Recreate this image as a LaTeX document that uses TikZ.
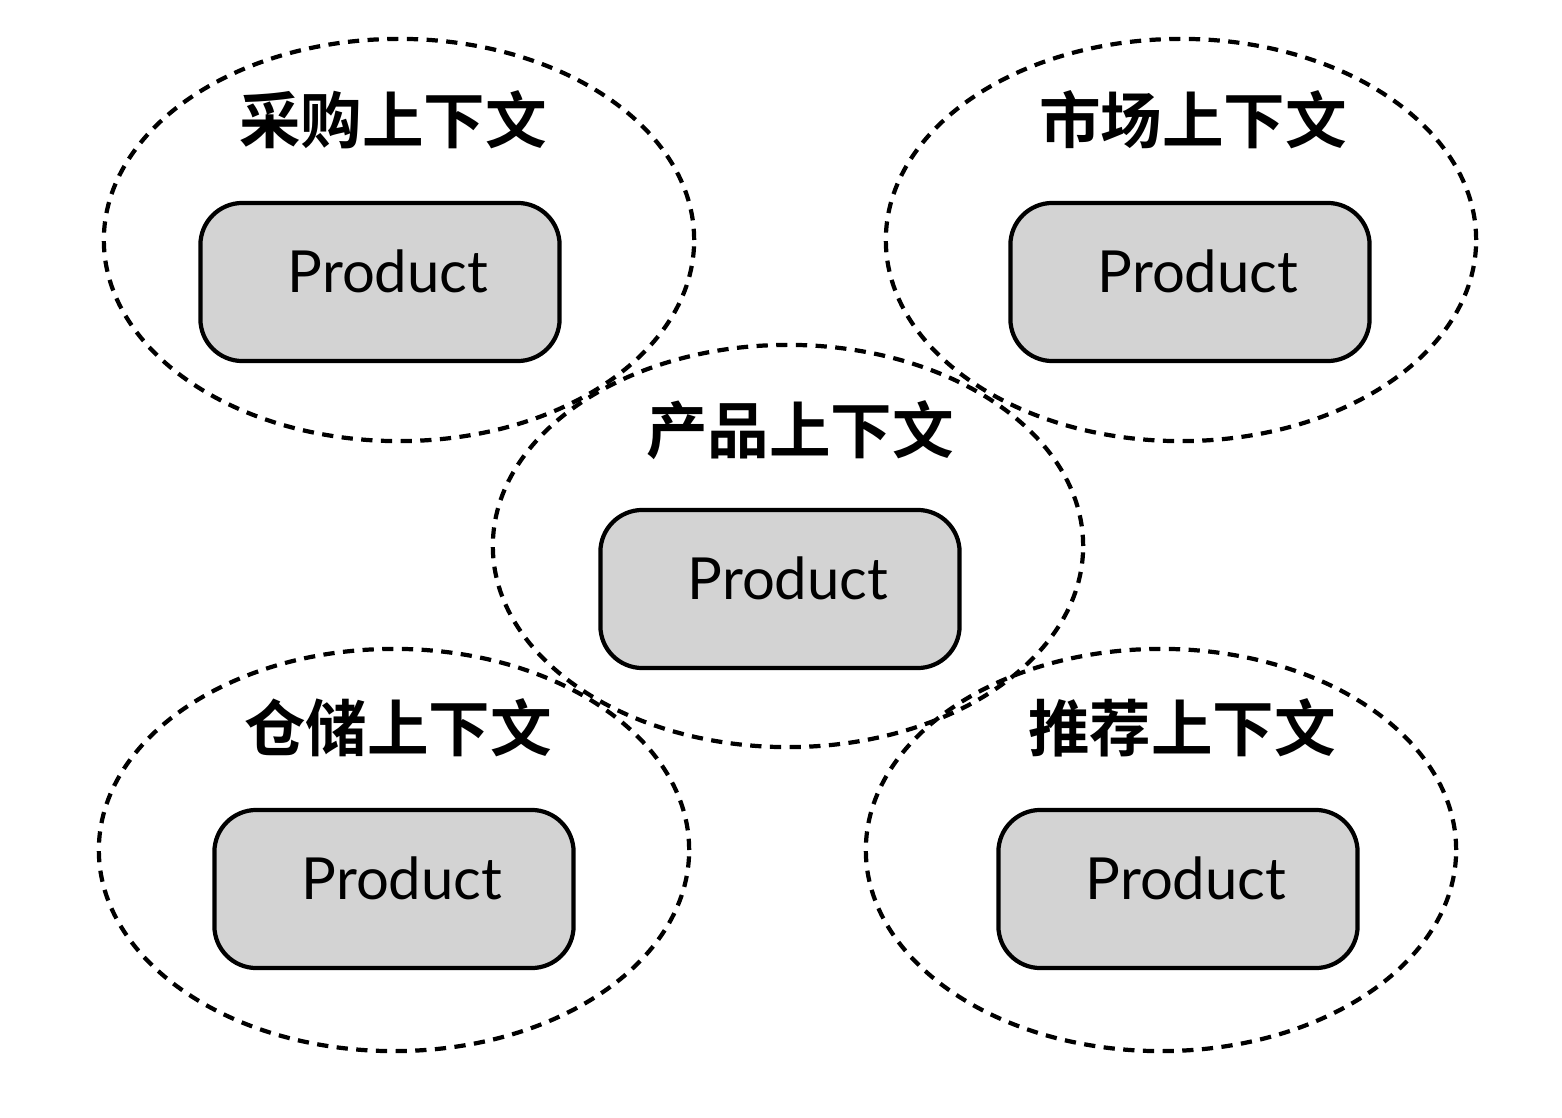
\documentclass[tikz,border=0pt]{standalone}
\usepackage{fontspec}
\setmainfont{Lato}
\newfontfamily\cjk{Noto Sans CJK SC Bold}
\usetikzlibrary{shapes.geometric,positioning}

\begin{document}
\begin{tikzpicture}[x=0.01cm,y=-0.01cm,line width=1.2pt,
    ctx/.style={draw,ellipse,dash pattern=on 3.2pt off 2.4pt,minimum width=5.9cm,minimum height=4.02cm,inner sep=0pt},
    entity/.style={draw,fill=boxgray,rounded corners=0.42cm,minimum width=3.59cm,minimum height=1.58cm,
        text height=0.45cm,text depth=0.25cm,font=\fontsize{16.5}{20}\selectfont},
    ctxname/.style={font=\cjk\fontsize{17.5}{20}\selectfont}]
    \definecolor{boxgray}{RGB}{211,211,211}
    \useasboundingbox (0,0) rectangle (1562,1118);

    \node[ctx]     (caigou)   at (399,240)  {};
    \node[ctx]     (shichang) at (1181,240) {};
    \node[ctx]     (chanpin)  at (788,546)  {};
    \node[ctx]     (cangchu)  at (394,850)  {};
    \node[ctx]     (tuijian)  at (1161,850) {};

    \node[entity]  (caigouP)   at (380,282)  {\hspace{0.16cm}Product};
    \node[entity]  (shichangP) at (1190,282) {\hspace{0.16cm}Product};
    \node[entity]  (chanpinP)  at (780,589)  {\hspace{0.16cm}Product};
    \node[entity]  (cangchuP)  at (394,889)  {\hspace{0.16cm}Product};
    \node[entity]  (tuijianP)  at (1178,889) {\hspace{0.16cm}Product};

    \node[ctxname] (caigouT)   at (393,120)  {采购上下文};
    \node[ctxname] (shichangT) at (1193,120) {市场上下文};
    \node[ctxname] (chanpinT)  at (800,430)  {产品上下文};
    \node[ctxname] (cangchuT)  at (398,728)  {仓储上下文};
    \node[ctxname] (tuijianT)  at (1182,728) {推荐上下文};
\end{tikzpicture}
\end{document}
